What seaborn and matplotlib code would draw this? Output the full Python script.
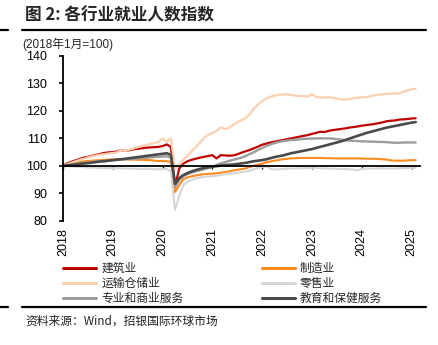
import numpy as np
import pandas as pd
import matplotlib
matplotlib.use("Agg")
import matplotlib.pyplot as plt
from matplotlib.lines import Line2D
import seaborn as sns

# Monthly employment index by industry, Jan 2018 = 100 (2018-01 .. 2025-02)
start_year = 2018
year_ticks = [2018, 2019, 2020, 2021, 2022, 2023, 2024, 2025]
y_ticks = [80, 90, 100, 110, 120, 130, 140]

construction = [
    100.0, 100.9, 101.5, 102.0, 102.5, 103.0, 103.3, 103.7, 104.0, 104.4, 104.7, 104.9,
    105.0, 105.2, 105.8, 105.4, 105.7, 106.0, 106.2, 106.4, 106.6, 106.7, 106.8, 106.9,
    107.2, 107.8, 106.9, 92.5, 99.0, 100.8, 101.7, 102.2, 102.6, 103.0, 103.3, 103.6,
    103.9, 102.7, 103.9, 103.8, 103.7, 103.8, 104.2, 104.8, 105.3, 105.8, 106.4, 107.0,
    107.7, 108.1, 108.5, 108.8, 109.1, 109.4, 109.7, 110.0, 110.3, 110.6, 110.9, 111.2,
    111.6, 112.0, 112.4, 112.3, 112.7, 113.0, 113.2, 113.4, 113.6, 113.9, 114.1, 114.3,
    114.6, 114.8, 115.0, 115.2, 115.5, 115.8, 116.2, 116.4, 116.5, 116.8, 116.9, 117.0,
    117.2, 117.3,
]
manufacturing = [
    100.0, 100.4, 100.8, 101.1, 101.4, 101.6, 101.8, 101.9, 102.0, 102.1, 102.2, 102.3,
    102.3, 102.4, 102.4, 102.4, 102.3, 102.3, 102.2, 102.2, 102.1, 102.1, 101.9, 101.8,
    101.8, 101.7, 101.4, 90.5, 93.0, 95.2, 95.8, 96.2, 96.5, 96.8, 97.0, 97.1,
    97.2, 97.3, 97.5, 97.8, 98.0, 98.3, 98.6, 98.8, 99.1, 99.6, 100.1, 100.5,
    100.8, 101.3, 101.6, 101.9, 102.2, 102.4, 102.6, 102.7, 102.8, 102.9, 102.9, 102.9,
    102.9, 102.9, 102.9, 102.8, 102.8, 102.8, 102.7, 102.7, 102.7, 102.7, 102.7, 102.7,
    102.7, 102.6, 102.6, 102.6, 102.5, 102.4, 102.3, 102.0, 101.9, 101.9, 101.9, 102.0,
    102.1, 102.1,
]
transport = [
    100.0, 100.6, 101.2, 101.7, 102.2, 102.6, 103.1, 103.5, 103.8, 104.1, 104.3, 104.5,
    104.7, 104.9, 105.8, 105.4, 105.9, 106.3, 106.8, 107.2, 107.6, 107.9, 108.3, 108.7,
    110.0, 108.8, 110.0, 98.8, 100.6, 102.2, 103.8, 105.3, 106.8, 108.4, 110.2, 111.2,
    112.0, 112.6, 114.0, 113.4, 113.8, 114.8, 115.8, 116.6, 117.3, 118.8, 120.8, 122.3,
    123.5, 124.5, 125.1, 125.5, 125.8, 125.9, 126.0, 125.7, 125.5, 125.3, 125.4, 125.2,
    126.0, 125.0, 124.9, 124.8, 124.9, 124.7, 124.5, 124.2, 124.0, 124.3, 124.6, 124.8,
    124.9, 125.0, 125.3, 125.6, 125.8, 126.0, 126.1, 126.2, 126.3, 126.3, 126.9, 127.4,
    127.8, 128.0,
]
retail = [
    100.0, 99.9, 99.8, 99.7, 99.6, 99.5, 99.4, 99.4, 99.3, 99.3, 99.2, 99.2,
    99.2, 99.1, 99.1, 99.0, 99.0, 99.0, 98.9, 98.9, 98.9, 98.9, 98.8, 98.8,
    98.8, 98.9, 98.0, 84.1, 89.0, 93.0, 94.3, 94.9, 95.4, 95.8, 96.0, 96.2,
    96.3, 96.4, 96.7, 96.9, 97.1, 97.3, 97.5, 97.7, 97.9, 98.3, 98.8, 99.3,
    99.5, 99.9, 98.9, 98.7, 98.8, 98.9, 99.0, 99.0, 99.1, 99.1, 99.2, 99.2,
    99.2, 99.2, 99.1, 99.1, 99.0, 99.0, 98.9, 98.9, 98.9, 98.8, 98.7, 98.4,
    98.9, 99.0, 99.0, 99.0, 99.1, 99.1, 99.0, 99.0, 99.0, 99.1, 99.2, 99.2,
    99.3, 99.3,
]
business_services = [
    100.0, 100.2, 100.4, 100.6, 100.8, 101.0, 101.2, 101.4, 101.5, 101.7, 101.8, 101.9,
    102.0, 102.1, 102.3, 102.4, 102.5, 102.6, 102.7, 102.8, 102.9, 103.1, 103.2, 103.3,
    103.4, 103.5, 103.0, 92.3, 94.8, 96.3, 97.0, 97.6, 98.0, 98.4, 98.8, 99.2,
    99.6, 100.3, 100.9, 101.3, 101.8, 102.2, 102.6, 103.0, 103.6, 104.3, 105.0, 105.8,
    106.5, 107.2, 107.8, 108.3, 108.7, 109.0, 109.2, 109.4, 109.5, 109.6, 109.8, 109.9,
    109.9, 110.0, 110.0, 110.0, 110.0, 109.9, 109.7, 109.5, 109.3, 109.2, 109.1, 109.0,
    108.9, 108.9, 108.8, 108.8, 108.7, 108.7, 108.6, 108.5, 108.4, 108.4, 108.5, 108.5,
    108.5, 108.5,
]
education_health = [
    100.0, 100.2, 100.4, 100.5, 100.7, 100.9, 101.0, 101.2, 101.4, 101.6, 101.7, 101.9,
    102.1, 102.3, 102.4, 102.6, 102.8, 103.0, 103.2, 103.4, 103.6, 103.8, 104.0, 104.2,
    104.4, 104.6, 104.0, 93.5, 95.5, 96.7, 97.4, 98.0, 98.5, 98.9, 99.3, 99.5,
    99.7, 99.9, 100.1, 100.3, 100.4, 100.5, 100.7, 100.9, 101.1, 101.4, 101.7, 101.9,
    102.1, 102.4, 102.8, 103.2, 103.5, 103.8, 104.2, 104.6, 104.9, 105.2, 105.5, 105.8,
    106.1, 106.5, 106.9, 107.3, 107.7, 108.1, 108.5, 108.9, 109.4, 109.9, 110.4, 110.9,
    111.4, 111.9, 112.3, 112.7, 113.1, 113.5, 113.9, 114.2, 114.5, 114.8, 115.1, 115.4,
    115.7, 115.9,
]

labels = ["建筑业", "制造业", "运输仓储业", "零售业", "专业和商业服务", "教育和保健服务"]
series = [construction, manufacturing, transport, retail, business_services, education_health]
colors = ["#C00000", "#FF8A1E", "#FAD0B0", "#D6D6D6", "#9C9C9C", "#4A4A4A"]
widths = [1.6, 1.5, 1.6, 1.5, 1.7, 1.9]
draw_order = [3, 2, 1, 4, 0, 5]

months = np.arange(len(construction))
t = start_year + months / 12.0
frames = [pd.DataFrame({"t": t, "value": vals, "industry": name}) for name, vals in zip(labels, series)]
df = pd.concat(frames, ignore_index=True)

sns.set_theme(style="white")
plt.rcParams["font.family"] = ["Liberation Sans", "Noto Sans CJK SC"]
cjk = ["Noto Sans CJK SC", "Liberation Sans"]

W, H = 439, 345
fig = plt.figure(figsize=(W / 100, H / 100), dpi=100)
fig.patch.set_facecolor("white")
ax = fig.add_axes([63 / W, (H - 221) / H, 357 / W, (221 - 55.7) / H])

for i in draw_order:
    sub = df[df["industry"] == labels[i]]
    sns.lineplot(data=sub, x="t", y="value", ax=ax, color=colors[i], lw=widths[i],
                 legend=False, zorder=2 + i * 0.01)

# axis frame: left spine plus a baseline at 100 carrying the year ticks
for side in ["top", "right"]:
    ax.spines[side].set_visible(False)
ax.spines["left"].set_color("black")
ax.spines["left"].set_linewidth(1.3)
ax.spines["bottom"].set_color("black")
ax.spines["bottom"].set_linewidth(1.3)
ax.spines["bottom"].set_position(("data", 100))

ax.set_xlim(start_year, 2025.17)
ax.set_ylim(80, 140)
ax.set_xlabel("")
ax.set_ylabel("")
ax.set_yticks(y_ticks)
ax.set_yticklabels([str(v) for v in y_ticks])
ax.set_xticks(year_ticks)
ax.set_xticklabels([str(y) for y in year_ticks])
ax.tick_params(axis="y", direction="out", length=3, width=1.2, pad=8.5, left=True,
               colors="black", labelsize=9)
ax.tick_params(axis="x", direction="out", length=1.8, width=1.0, pad=43, bottom=True,
               colors="black", labelsize=9, labelrotation=90)
ax.grid(False)

# legend: two columns of three entries
handles = [Line2D([0], [0], color=colors[i], lw=2.2) for i in range(6)]
order = [0, 2, 4, 1, 3, 5]
leg = ax.legend([handles[i] for i in order], [labels[i] for i in order], ncol=2,
                loc="upper left", bbox_to_anchor=(63 / W, (H - 262) / H),
                bbox_transform=fig.transFigure, frameon=False, borderpad=0,
                borderaxespad=0, handlelength=2.8, handletextpad=0.45,
                columnspacing=6.6, labelspacing=0.18,
                prop={"family": cjk, "size": 8.5})

# header, rules and notes
fig.text(25 / W, 1 - 15 / H, "图 2: 各行业就业人数指数", fontsize=12, fontweight="bold",
         family=cjk, va="center", ha="left")
fig.text(22 / W, 1 - 44 / H, "(2018年1月=100)", fontsize=8.5, va="center", ha="left",
         family=["Liberation Sans", "Noto Sans CJK SC"])
fig.text(25 / W, 1 - 321 / H, "资料来源：Wind，招银国际环球市场", fontsize=8.5,
         family=cjk, va="center", ha="left", color="#222222")

for y in (30, 307):
    fig.add_artist(Line2D([22 / W, 426 / W], [1 - y / H] * 2, lw=1.6, color="black"))
    fig.add_artist(Line2D([0, 8 / W], [1 - y / H] * 2, lw=1.6, color="black"))

fig.savefig("out.png", dpi=100, facecolor="white")
